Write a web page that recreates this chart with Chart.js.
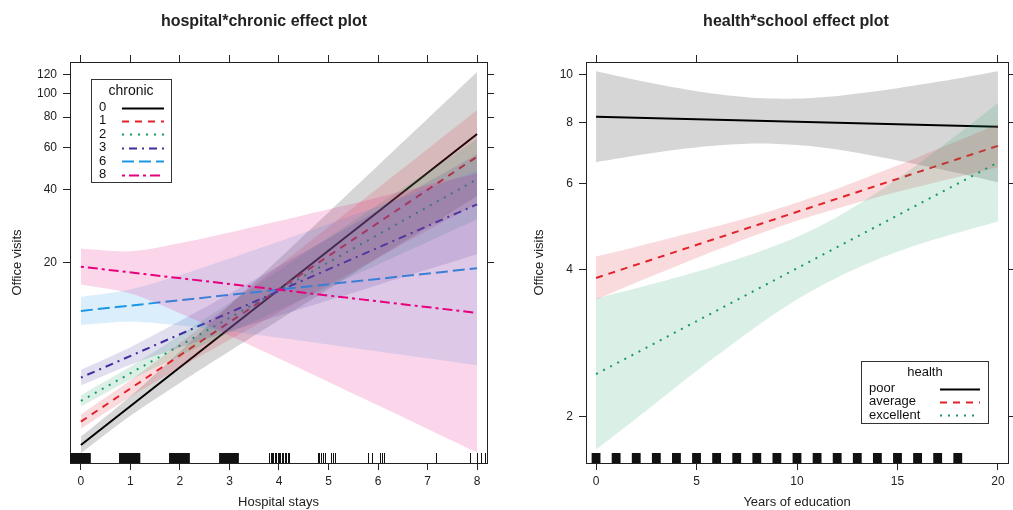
<!DOCTYPE html>
<html><head><meta charset="utf-8">
<script src="https://cdn.jsdelivr.net/npm/chart.js@4.4.1/dist/chart.umd.min.js"></script>
<style>
html,body{margin:0;padding:0;background:#fff;overflow:hidden}
#wrap{position:relative;width:1013px;height:510px;background:#fff}
.box{position:absolute;top:0;height:510px}
</style></head><body>
<div id="wrap">
<div class="box" style="left:0;width:506px"><canvas id="c1" width="506" height="510"></canvas></div>
<div class="box" style="left:506px;width:507px"><canvas id="c2" width="507" height="510"></canvas></div>
</div>
<script>
// ---------- data: left panel (hospital*chronic) ----------
const hospFitX = [0, 8];
const hospBandX = [0, 1, 2, 3, 4, 5, 6, 7, 8];
const hospTicks = [0, 1, 2, 3, 4, 5, 6, 7, 8];
const visitTicksLeft = [20, 40, 60, 80, 100, 120];
const chronicLevels = ['0', '1', '2', '3', '6', '8'];

const chronic0Fit = [3.55, 68.1];
const chronic0Lower = [3.28, 4.68, 6.40, 8.64, 11.62, 15.6, 21.0, 28.1, 37.8];
const chronic0Upper = [3.84, 5.64, 8.63, 13.37, 20.8, 32.4, 50.5, 78.7, 122.8];
const chronic1Fit = [4.43, 54.9];
const chronic1Lower = [4.14, 5.61, 7.39, 9.64, 12.5, 16.2, 21.0, 27.2, 35.2];
const chronic1Upper = [4.74, 6.56, 9.35, 13.46, 19.46, 28.15, 40.75, 59.0, 85.5];
const chronic2Fit = [5.39, 44.3];
const chronic2Lower = [5.11, 6.59, 8.27, 10.30, 12.80, 15.89, 19.70, 24.43, 30.28];
const chronic2Upper = [5.69, 7.47, 10.07, 13.69, 18.66, 25.46, 34.75, 47.4, 64.8];
const chronic3Fit = [6.73, 34.9];
const chronic3Lower = [6.25, 7.61, 8.96, 10.43, 12.10, 14.02, 16.23, 18.77, 21.72];
const chronic3Upper = [7.24, 8.98, 11.52, 14.93, 19.42, 25.31, 32.99, 43.0, 56.2];
const chronic6Fit = [12.68, 19.02];
const chronic6Lower = [11.10, 11.45, 11.05, 10.45, 9.83, 9.22, 8.63, 8.08, 7.56];
const chronic6Upper = [14.48, 15.54, 17.82, 20.85, 24.54, 28.96, 34.22, 40.46, 47.86];
const chronic8Fit = [19.31, 12.44];
const chronic8Lower = [16.30, 14.95, 12.41, 10.04, 8.07, 6.46, 5.17, 4.13, 3.30];
const chronic8Upper = [22.87, 22.34, 24.12, 26.70, 29.77, 33.29, 37.28, 41.79, 46.85];

const hospRugBlocks = [[-0.22, 0.20], [0.77, 1.20], [1.78, 2.20], [2.79, 3.19]];
const hospRugTicks = [3.80, 3.83, 3.86, 3.88, 3.91, 3.94, 3.97, 4.00, 4.03, 4.06, 4.09, 4.12, 4.15, 4.18, 4.20,
  4.78, 4.81, 4.84, 4.88, 4.92, 5.05, 5.09, 5.14, 5.80, 5.88, 6.04, 6.08, 6.12, 7.17, 7.86, 7.99, 8.07, 8.16];

// ---------- data: right panel (health*school) ----------
const eduFitX = [0, 20];
const eduBandX = [0, 2, 4, 6, 8, 10, 12, 14, 16, 18, 20];
const eduTicks = [0, 5, 10, 15, 20];
const visitTicksRight = [2, 4, 6, 8, 10];
const healthLevels = ['poor', 'average', 'excellent'];

const poorFit = [8.21, 7.83];
const poorLower = [6.63, 6.84, 7.03, 7.17, 7.24, 7.19, 7.04, 6.81, 6.56, 6.30, 6.03];
const poorUpper = [10.18, 9.77, 9.42, 9.14, 8.97, 8.95, 9.06, 9.27, 9.54, 9.84, 10.18];
const averageFit = [3.84, 7.16];
const averageLower = [3.47, 3.76, 4.06, 4.38, 4.71, 5.03, 5.33, 5.62, 5.90, 6.18, 6.47];
const averageUpper = [4.25, 4.45, 4.67, 4.90, 5.16, 5.48, 5.85, 6.29, 6.78, 7.33, 7.93];
const excellentFit = [2.44, 6.62];
const excellentLower = [1.71, 1.98, 2.30, 2.66, 3.06, 3.47, 3.85, 4.19, 4.49, 4.75, 5.01];
const excellentUpper = [3.49, 3.66, 3.85, 4.07, 4.33, 4.66, 5.12, 5.75, 6.56, 7.56, 8.76];

const eduRug = [0, 1, 2, 3, 4, 5, 6, 7, 8, 9, 10, 11, 12, 13, 14, 15, 16, 17, 18];

// ---------- styling ----------
const FONT = "'Liberation Sans', Arial, Helvetica, sans-serif";
const INK = '#222';
const chronicStyles = [
  {color: '#000000', dash: []},
  {color: '#e3222b', dash: [7, 6]},
  {color: '#1a9a5f', dash: [2, 6]},
  {color: '#3d2f9e', dash: [2, 5, 8, 5]},
  {color: '#1c97e6', dash: [12, 5]},
  {color: '#e6007e', dash: [3, 4, 10, 4]}
];
const healthStyles = chronicStyles.slice(0, 3);

function rgba(hex, a) {
  const n = parseInt(hex.slice(1), 16);
  return `rgba(${(n >> 16) & 255},${(n >> 8) & 255},${n & 255},${a})`;
}
function pts(X, Y) { return X.map((x, i) => ({x: x, y: Y[i]})); }
function series(bandX, fitX, fit, lower, upper, style, label, seq) {
  return [
    {data: pts(bandX, lower), borderColor: 'transparent', borderWidth: 0, pointRadius: 0,
     fill: false, tension: 0.3, order: 1000 - seq * 3},
    {data: pts(bandX, upper), borderColor: 'transparent', borderWidth: 0, pointRadius: 0,
     fill: '-1', backgroundColor: rgba(style.color, 0.16), tension: 0.3, order: 1000 - seq * 3 - 1},
    {label: label, data: pts(fitX, fit), borderColor: style.color, borderWidth: 2,
     borderDash: style.dash, pointRadius: 0, fill: false, tension: 0, order: 1000 - seq * 3 - 2}
  ];
}

function axisCommon() {
  return {
    grid: {drawOnChartArea: false, drawTicks: true, tickLength: 7, color: INK, lineWidth: 1},
    border: {display: true, color: INK, width: 1}
  };
}
function makeScales(o) {
  const setTicks = (vals) => (s) => { s.ticks = vals.map(v => ({value: v})); };
  return {
    x: Object.assign(axisCommon(), {
      type: 'linear', position: 'bottom', min: o.xMin, max: o.xMax,
      afterBuildTicks: setTicks(o.xTicks),
      ticks: {font: {family: FONT, size: 12}, color: INK, padding: 4, maxRotation: 0, autoSkip: false,
              callback: v => String(v)},
      title: {display: true, text: o.xTitle, font: {family: FONT, size: 13}, color: INK, padding: {top: 0, bottom: 0}},
      afterFit: s => { s.height = o.bottomH; }
    }),
    xTop: Object.assign(axisCommon(), {
      type: 'linear', position: 'top', min: o.xMin, max: o.xMax,
      afterBuildTicks: setTicks(o.xTicks),
      ticks: {display: false},
      afterFit: s => { s.height = o.topH; }
    }),
    y: Object.assign(axisCommon(), {
      type: 'logarithmic', position: 'left', min: o.yMin, max: o.yMax,
      afterBuildTicks: setTicks(o.yTicks),
      ticks: {font: {family: FONT, size: 12}, color: INK, padding: 6, autoSkip: false, callback: v => String(v)},
      title: {display: true, text: 'Office visits', font: {family: FONT, size: 13}, color: INK,
              padding: {top: o.yTitlePad, bottom: 0}},
      afterFit: s => { s.width = o.leftW; }
    }),
    yRight: Object.assign(axisCommon(), {
      type: 'logarithmic', position: 'right', min: o.yMin, max: o.yMax,
      afterBuildTicks: setTicks(o.yTicks),
      ticks: {display: false},
      afterFit: s => { s.width = o.rightW; }
    })
  };
}

const titlePlugin = {
  id: 'panelTitle',
  afterDraw(chart, args, opts) {
    const ctx = chart.ctx;
    ctx.save();
    ctx.font = `bold 16px ${FONT}`;
    ctx.fillStyle = INK;
    ctx.textAlign = 'center';
    ctx.textBaseline = 'middle';
    ctx.fillText(opts.text, opts.x, opts.y);
    ctx.restore();
  }
};
const rugPlugin = {
  id: 'rug',
  afterDatasetsDraw(chart, args, opts) {
    const ctx = chart.ctx, xs = chart.scales.x, bot = chart.chartArea.bottom, top = bot - opts.height;
    ctx.save();
    ctx.fillStyle = '#111';
    ctx.strokeStyle = '#111';
    ctx.lineWidth = 1;
    (opts.blocks || []).forEach(b => {
      const a = xs.getPixelForValue(b[0]), c = xs.getPixelForValue(b[1]);
      ctx.fillRect(a, top, c - a, opts.height);
    });
    (opts.ticks || []).forEach(v => {
      const p = Math.round(xs.getPixelForValue(v)) + 0.5;
      ctx.beginPath(); ctx.moveTo(p, top); ctx.lineTo(p, bot); ctx.stroke();
    });
    (opts.spans || []).forEach(v => {
      const a = xs.getPixelForValue(v - opts.halfWidth), c = xs.getPixelForValue(v + opts.halfWidth);
      ctx.fillRect(a, top, c - a, opts.height);
    });
    ctx.restore();
  }
};
const legendPlugin = {
  id: 'latticeLegend',
  afterDraw(chart, args, o) {
    const ctx = chart.ctx;
    ctx.save();
    ctx.fillStyle = '#fff';
    ctx.fillRect(o.box[0], o.box[1], o.box[2], o.box[3]);
    ctx.strokeStyle = '#333'; ctx.lineWidth = 1;
    ctx.strokeRect(o.box[0] + 0.5, o.box[1] + 0.5, o.box[2], o.box[3]);
    ctx.fillStyle = '#111';
    ctx.textBaseline = 'middle';
    ctx.textAlign = 'center';
    ctx.font = `${o.titleSize}px ${FONT}`;
    ctx.fillText(o.title, o.titleX, o.titleY);
    ctx.textAlign = 'left';
    ctx.font = `${o.size}px ${FONT}`;
    o.labels.forEach((lab, i) => {
      const y = o.firstY + i * o.step;
      ctx.fillStyle = '#111';
      ctx.fillText(lab, o.textX, y);
      const st = o.styles[i];
      ctx.strokeStyle = st.color; ctx.lineWidth = 2; ctx.setLineDash(st.dash);
      ctx.beginPath(); ctx.moveTo(o.lineX0, Math.round(y) + 0.5); ctx.lineTo(o.lineX1, Math.round(y) + 0.5); ctx.stroke();
      ctx.setLineDash([]);
    });
    ctx.restore();
  }
};

// ---------- left chart ----------
const leftData = [
  [chronic0Fit, chronic0Lower, chronic0Upper],
  [chronic1Fit, chronic1Lower, chronic1Upper],
  [chronic2Fit, chronic2Lower, chronic2Upper],
  [chronic3Fit, chronic3Lower, chronic3Upper],
  [chronic6Fit, chronic6Lower, chronic6Upper],
  [chronic8Fit, chronic8Lower, chronic8Upper]
];
let leftSets = [];
leftData.forEach((d, k) => {
  leftSets = leftSets.concat(series(hospBandX, hospFitX, d[0], d[1], d[2], chronicStyles[k], chronicLevels[k], k));
});

new Chart(document.getElementById('c1'), {
  type: 'line',
  data: {datasets: leftSets},
  options: {
    responsive: false, animation: false, devicePixelRatio: 1,
    layout: {padding: 0},
    scales: makeScales({xMin: -0.22, xMax: 8.2, xTicks: hospTicks, yMin: 2.99, yMax: 134.9, yTicks: visitTicksLeft,
      xTitle: 'Hospital stays', yTitlePad: 10, leftW: 70, rightW: 19, topH: 62, bottomH: 47}),
    plugins: {
      legend: {display: false}, tooltip: {enabled: false}, title: {display: false},
      panelTitle: {text: 'hospital*chronic effect plot', x: 264, y: 22},
      rug: {height: 10, blocks: hospRugBlocks, ticks: hospRugTicks},
      latticeLegend: {box: [91, 79, 80, 103], title: 'chronic', titleSize: 14, titleX: 131, titleY: 91,
        labels: chronicLevels, styles: chronicStyles, size: 13, textX: 99, firstY: 107.5, step: 13.4,
        lineX0: 122, lineX1: 164}
    }
  },
  plugins: [titlePlugin, rugPlugin, legendPlugin]
});

// ---------- right chart ----------
const rightData = [
  [poorFit, poorLower, poorUpper],
  [averageFit, averageLower, averageUpper],
  [excellentFit, excellentLower, excellentUpper]
];
let rightSets = [];
rightData.forEach((d, k) => {
  rightSets = rightSets.concat(series(eduBandX, eduFitX, d[0], d[1], d[2], healthStyles[k], healthLevels[k], k));
});

new Chart(document.getElementById('c2'), {
  type: 'line',
  data: {datasets: rightSets},
  options: {
    responsive: false, animation: false, devicePixelRatio: 1,
    layout: {padding: 0},
    scales: makeScales({xMin: -0.5, xMax: 20.5, xTicks: eduTicks, yMin: 1.605, yMax: 10.63, yTicks: visitTicksRight,
      xTitle: 'Years of education', yTitlePad: 26, leftW: 80, rightW: 5, topH: 62, bottomH: 47}),
    plugins: {
      legend: {display: false}, tooltip: {enabled: false}, title: {display: false},
      panelTitle: {text: 'health*school effect plot', x: 290, y: 22},
      rug: {height: 10, spans: eduRug, halfWidth: 0.22},
      latticeLegend: {box: [355, 361, 127, 62], title: 'health', titleSize: 13, titleX: 419, titleY: 372,
        labels: healthLevels, styles: healthStyles, size: 13, textX: 363, firstY: 388.5, step: 13.3,
        lineX0: 434, lineX1: 474}
    }
  },
  plugins: [titlePlugin, rugPlugin, legendPlugin]
});
</script>
</body></html>
